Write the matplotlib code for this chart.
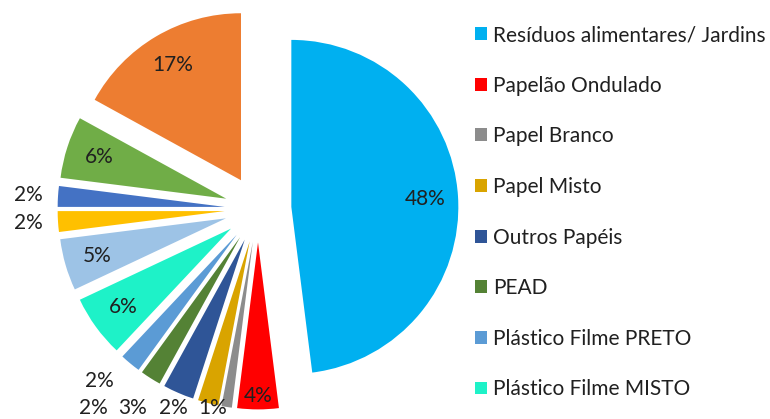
import numpy as np
import matplotlib.pyplot as plt

plt.rcParams['font.family'] = ['Lato', 'DejaVu Sans']

# composição gravimétrica (%), sentido horário a partir do topo
valores = [48, 4, 1, 2, 3, 2, 2, 6, 5, 2, 2, 6, 17]
cores = ['#00B0F0', '#FF0000', '#8C8C8C', '#D9A400', '#2F5597', '#548235',
         '#5B9BD5', '#1EF2C8', '#9DC3E6', '#FFC000', '#4472C4', '#70AD47',
         '#ED7D31']
legenda = ['Resíduos alimentares/ Jardins', 'Papelão Ondulado', 'Papel Branco',
           'Papel Misto', 'Outros Papéis', 'PEAD', 'Plástico Filme PRETO',
           'Plástico Filme MISTO']

W, H = 770, 419
escala = 167.0          # pixels por unidade de raio
cx, cy = 258, 209       # centro da pizza em pixels (a partir do topo)

fig = plt.figure(figsize=(W / 100, H / 100), dpi=100)
ax = fig.add_axes([0, 0, 1, 1])

wedges, _ = ax.pie(valores, colors=cores, startangle=90, counterclock=False,
                   explode=[0.2] * len(valores), radius=1,
                   wedgeprops=dict(linewidth=0))
ax.set_xlim(-cx / escala, (W - cx) / escala)
ax.set_ylim(-(H - cy) / escala, cy / escala)
ax.set_aspect('equal')
ax.axis('off')

# rótulos: dentro das fatias maiores, fora das pequenas
piso = -(408 - cy) / escala
folga = 40 / escala
fora = []
for w, v in zip(wedges, valores):
    ang = np.deg2rad((w.theta1 + w.theta2) / 2)
    x0, y0 = w.center
    txt = f'{v}%'
    if v >= 4:
        d = 0.8 if v >= 5 else 0.92
        ax.text(x0 + d * np.cos(ang), y0 + d * np.sin(ang), txt,
                ha='center', va='center', fontsize=15, color='#202020')
    else:
        d = 1.18
        fora.append([x0 + d * np.cos(ang), y0 + d * np.sin(ang), txt])

# linha de baixo: encosta no piso e afasta os rótulos para a esquerda
base = [f for f in fora if f[1] < piso + 0.12]
base.sort(key=lambda f: -f[0])
for i, f in enumerate(base):
    f[1] = piso
    if i == 0:
        f[0] -= 9 / escala
    else:
        f[0] = min(f[0], base[i - 1][0] - folga)
for f in fora:
    x, y, txt = f
    # rótulo logo acima da linha de baixo vai um pouco para fora
    if f not in base and y < -0.6:
        x -= 12 / escala
        y += 6 / escala
    ax.text(x, y, txt, ha='center', va='center', fontsize=15,
            color='#202020')

fig.legend(wedges[:len(legenda)], legenda, loc='upper left',
           bbox_to_anchor=(475 / W, 1 - 25 / H), frameon=False,
           borderpad=0, borderaxespad=0, handlelength=0.58,
           handleheight=0.58, handletextpad=0.3, labelspacing=1.47,
           fontsize=15, labelcolor='#202020')

fig.savefig('out.png', dpi=100)
